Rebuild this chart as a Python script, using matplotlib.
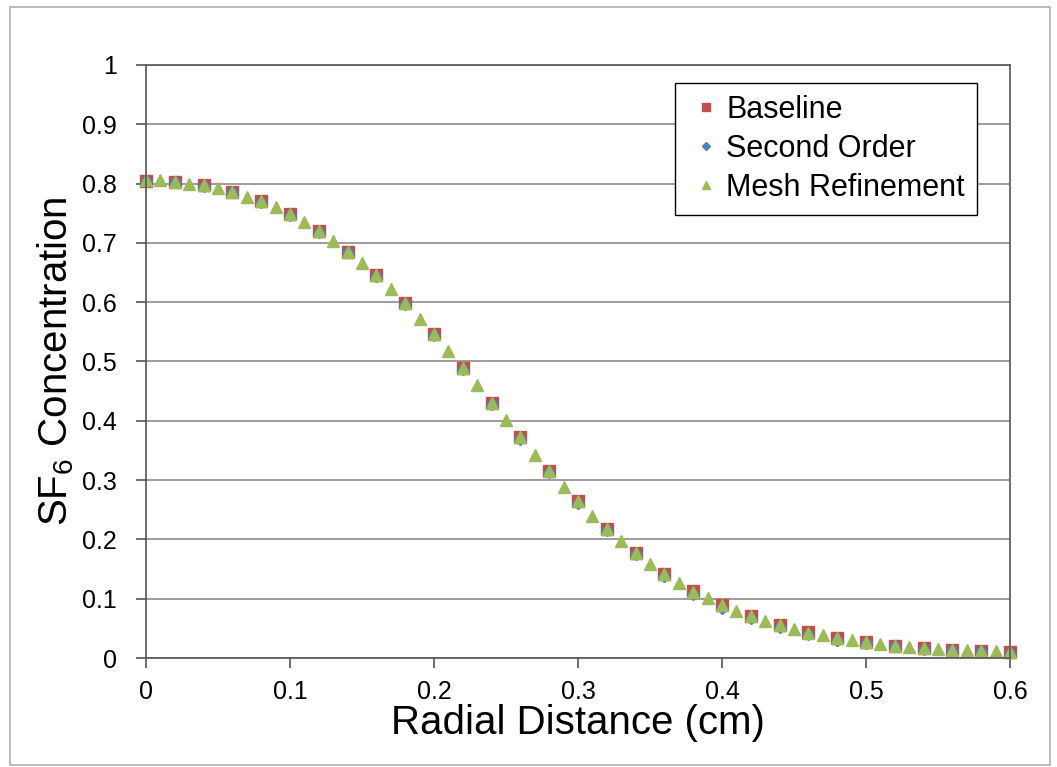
import matplotlib
matplotlib.use('Agg')
import matplotlib.pyplot as plt
import numpy as np
from matplotlib.patches import Rectangle

plt.rcParams['font.family'] = ['Liberation Sans', 'DejaVu Sans']
plt.rcParams['mathtext.fontset'] = 'custom'
plt.rcParams['mathtext.rm'] = 'Liberation Sans'

#### Data ####
x_coarse = [0.00, 0.02, 0.04, 0.06, 0.08, 0.10, 0.12, 0.14, 0.16, 0.18,
            0.20, 0.22, 0.24, 0.26, 0.28, 0.30, 0.32, 0.34, 0.36, 0.38,
            0.40, 0.42, 0.44, 0.46, 0.48, 0.50, 0.52, 0.54, 0.56, 0.58, 0.60]
baseline = [0.805, 0.803, 0.797, 0.786, 0.770, 0.748, 0.720, 0.685, 0.645, 0.598,
            0.546, 0.489, 0.430, 0.372, 0.315, 0.264, 0.218, 0.177, 0.142, 0.113,
            0.090, 0.071, 0.056, 0.044, 0.034, 0.027, 0.021, 0.017, 0.014, 0.012, 0.010]
second_order = [0.805, 0.802, 0.796, 0.785, 0.769, 0.747, 0.719, 0.684, 0.644, 0.597,
                0.545, 0.488, 0.429, 0.370, 0.313, 0.262, 0.216, 0.175, 0.139, 0.108,
                0.085, 0.067, 0.052, 0.040, 0.031, 0.025, 0.020, 0.016, 0.013, 0.011, 0.009]
x_fine = [0.00, 0.01, 0.02, 0.03, 0.04, 0.05, 0.06, 0.07, 0.08, 0.09,
          0.10, 0.11, 0.12, 0.13, 0.14, 0.15, 0.16, 0.17, 0.18, 0.19,
          0.20, 0.21, 0.22, 0.23, 0.24, 0.25, 0.26, 0.27, 0.28, 0.29,
          0.30, 0.31, 0.32, 0.33, 0.34, 0.35, 0.36, 0.37, 0.38, 0.39,
          0.40, 0.41, 0.42, 0.43, 0.44, 0.45, 0.46, 0.47, 0.48, 0.49,
          0.50, 0.51, 0.52, 0.53, 0.54, 0.55, 0.56, 0.57, 0.58, 0.59, 0.60]
mesh_refine = [0.806, 0.806, 0.803, 0.800, 0.797, 0.792, 0.786, 0.778, 0.770, 0.760,
               0.748, 0.735, 0.720, 0.703, 0.685, 0.666, 0.645, 0.622, 0.598, 0.572,
               0.546, 0.518, 0.489, 0.460, 0.430, 0.401, 0.372, 0.343, 0.315, 0.289,
               0.264, 0.240, 0.218, 0.197, 0.177, 0.159, 0.142, 0.127, 0.111, 0.101,
               0.089, 0.080, 0.070, 0.063, 0.055, 0.049, 0.043, 0.039, 0.034, 0.030,
               0.027, 0.024, 0.021, 0.019, 0.017, 0.016, 0.014, 0.013, 0.012, 0.011, 0.010]

x_ticks = [0, 0.1, 0.2, 0.3, 0.4, 0.5, 0.6]
x_ticklabels = ["0", "0.1", "0.2", "0.3", "0.4", "0.5", "0.6"]
y_ticks = [0, 0.1, 0.2, 0.3, 0.4, 0.5, 0.6, 0.7, 0.8, 0.9, 1.0]
y_ticklabels = ["0", "0.1", "0.2", "0.3", "0.4", "0.5", "0.6", "0.7", "0.8", "0.9", "1"]

fig = plt.figure(figsize=(10.57, 7.67), dpi=100)
ax = fig.add_axes([0.1381, 0.1421, 0.8174, 0.7732])

# outer chart frame
fig.patches.append(Rectangle((0.009, 0.003), 0.984, 0.988, transform=fig.transFigure,
                             fill=False, edgecolor="#b0b0b0", linewidth=1.2))

ax.plot(x_coarse, baseline, linestyle='none', marker='s', markersize=8,
        color="#C0504D", label="Baseline", clip_on=False)
ax.plot(x_coarse, second_order, linestyle='none', marker='D', markersize=6,
        color="#4F81BD", label="Second Order", clip_on=False)
ax.plot(x_fine, mesh_refine, linestyle='none', marker='^', markersize=8,
        color="#9BBB59", label="Mesh Refinement", clip_on=False)

ax.set_xlim(0, 0.6)
ax.set_ylim(0, 1)
ax.set_xticks(x_ticks)
ax.set_xticklabels(x_ticklabels)
ax.set_yticks(y_ticks)
ax.set_yticklabels(y_ticklabels)
ax.tick_params(axis='both', labelsize=18, direction='out', length=7, width=1.2,
               color="#555555")
ax.tick_params(axis='x', pad=9)
ax.tick_params(axis='y', pad=14)
ax.grid(axis='y', color="#8c8c8c", linewidth=1.2)
ax.set_axisbelow(True)
for s in ax.spines.values():
    s.set_color("#555555")
    s.set_linewidth(1.2)

ax.set_xlabel("Radial Distance (cm)", fontsize=29, labelpad=0)
ax.set_ylabel(r"SF$_\mathregular{6}$ Concentration", fontsize=29, labelpad=4)

leg = ax.legend(loc='upper left', bbox_to_anchor=(675 / 1057, 1 - 83 / 767),
                bbox_transform=fig.transFigure, fontsize=22,
                frameon=True, fancybox=False, edgecolor="#000000", framealpha=1,
                handletextpad=0.0, handlelength=1.3, borderpad=0.38, labelspacing=0.3,
                borderaxespad=0, markerscale=0.75)
leg.get_frame().set_linewidth(1.0)

fig.savefig("out.png", dpi=100)
